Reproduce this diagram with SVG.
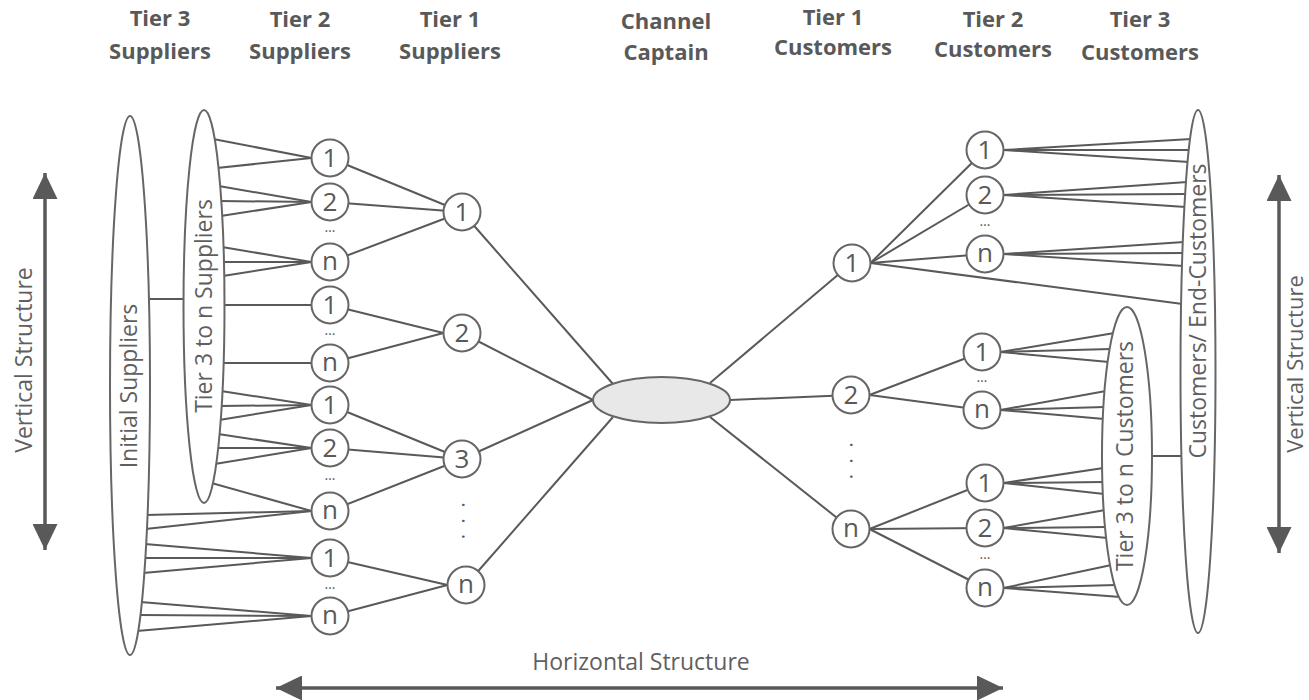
<svg xmlns="http://www.w3.org/2000/svg" width="1309" height="700" viewBox="0 0 1309 700">
  <defs>
    <style>
      .ln { stroke: #595959; stroke-width: 2; fill: none; }
      .nd { fill: #ffffff; stroke: #666666; stroke-width: 2; }
      .cap { fill: #e8e8e8; stroke: #666666; stroke-width: 2; }
      .num { font-family: "Open Sans", "Liberation Sans", sans-serif; font-size: 26px; fill: #595959; text-anchor: middle; }
      .lbl { font-family: "Open Sans", "Liberation Sans", sans-serif; font-size: 23px; fill: #5f5f5f; text-anchor: middle; }
      .hdr { font-family: "Open Sans", "Liberation Sans", sans-serif; font-size: 22px; font-weight: 700; fill: #595959; text-anchor: middle; }
      .dots { font-family: "Open Sans", "Liberation Sans", sans-serif; font-size: 14px; fill: #595959; text-anchor: middle; }
      .vdots { font-family: "Open Sans", "Liberation Sans", sans-serif; font-size: 20px; fill: #595959; letter-spacing: 10.6px; }
      .arr { stroke: #595959; stroke-width: 3.5; fill: none; }
    </style>
    <marker id="head" markerUnits="userSpaceOnUse" markerWidth="26" markerHeight="25" refX="26" refY="12.5" orient="auto-start-reverse" viewBox="0 0 26 25">
      <path d="M0,0 L26,12.5 L0,25 Z" fill="#595959"/>
    </marker>
  </defs>

  <rect width="1309" height="700" fill="#ffffff"/>

  <!-- column headers -->
  <g id="headers">
    <text class="hdr" x="160" y="26">Tier 3</text>
    <text class="hdr" x="160" y="59">Suppliers</text>
    <text class="hdr" x="300" y="27">Tier 2</text>
    <text class="hdr" x="300" y="59">Suppliers</text>
    <text class="hdr" x="450" y="27">Tier 1</text>
    <text class="hdr" x="450" y="59">Suppliers</text>
    <text class="hdr" x="666" y="29">Channel</text>
    <text class="hdr" x="666" y="60">Captain</text>
    <text class="hdr" x="833" y="25">Tier 1</text>
    <text class="hdr" x="833" y="55">Customers</text>
    <text class="hdr" x="993" y="27">Tier 2</text>
    <text class="hdr" x="993" y="57">Customers</text>
    <text class="hdr" x="1140" y="27">Tier 3</text>
    <text class="hdr" x="1140" y="60">Customers</text>
  </g>

  <!-- connectors -->
  <g id="connectors" class="ln">
    <!-- link between the two supplier groups -->
    <line x1="148" y1="299" x2="186" y2="299"/>
    <!-- tier 3 suppliers to tier 2 suppliers -->
    <line x1="311.5" y1="158" x2="213.2" y2="139"/>
    <line x1="311.5" y1="158" x2="217" y2="168"/>
    <line x1="311.5" y1="202" x2="218.7" y2="186"/>
    <line x1="311.5" y1="202" x2="219.8" y2="201"/>
    <line x1="311.5" y1="202" x2="220.7" y2="216"/>
    <line x1="311.5" y1="262" x2="222" y2="247"/>
    <line x1="311.5" y1="262" x2="222.5" y2="262"/>
    <line x1="311.5" y1="262" x2="222.8" y2="276"/>
    <line x1="311.5" y1="305" x2="223" y2="305"/>
    <line x1="311.5" y1="363" x2="222" y2="363"/>
    <line x1="311.5" y1="405" x2="221" y2="391"/>
    <line x1="311.5" y1="405" x2="220.2" y2="406"/>
    <line x1="311.5" y1="405" x2="219.2" y2="420"/>
    <line x1="311.5" y1="448" x2="218.1" y2="434"/>
    <line x1="311.5" y1="448" x2="216.7" y2="448"/>
    <line x1="311.5" y1="448" x2="214.7" y2="464"/>
    <line x1="311.5" y1="511" x2="211.5" y2="483"/>
    <line x1="311.5" y1="511" x2="146" y2="515"/>
    <line x1="311.5" y1="511" x2="145.4" y2="529"/>
    <line x1="311.5" y1="558" x2="144.7" y2="544"/>
    <line x1="311.5" y1="558" x2="143.9" y2="558"/>
    <line x1="311.5" y1="558" x2="142.9" y2="573"/>
    <line x1="311.5" y1="616" x2="140.4" y2="602"/>
    <line x1="311.5" y1="616" x2="139" y2="615"/>
    <line x1="311.5" y1="616" x2="136.7" y2="631"/>
    <!-- tier 2 suppliers to tier 1 suppliers -->
    <line x1="330" y1="158" x2="462" y2="212"/>
    <line x1="330" y1="202" x2="462" y2="212"/>
    <line x1="330" y1="262" x2="462" y2="212"/>
    <line x1="330" y1="305" x2="443.5" y2="333"/>
    <line x1="330" y1="363" x2="443.5" y2="333"/>
    <line x1="330" y1="405" x2="462" y2="459"/>
    <line x1="330" y1="448" x2="462" y2="459"/>
    <line x1="330" y1="511" x2="462" y2="459"/>
    <line x1="330" y1="558" x2="447.5" y2="585"/>
    <line x1="330" y1="616" x2="447.5" y2="585"/>
    <!-- tier 1 suppliers to channel captain -->
    <line x1="462" y1="212" x2="613" y2="384"/>
    <line x1="462" y1="333" x2="593" y2="400"/>
    <line x1="462" y1="459" x2="593" y2="400"/>
    <line x1="466" y1="585" x2="613" y2="417"/>
    <!-- channel captain to tier 1 customers -->
    <line x1="710" y1="383" x2="852" y2="263"/>
    <line x1="730" y1="400" x2="851" y2="395"/>
    <line x1="710" y1="417" x2="851" y2="529"/>
    <!-- tier 1 customers to tier 2 customers -->
    <line x1="870.5" y1="263" x2="985" y2="150"/>
    <line x1="870.5" y1="263" x2="985" y2="195"/>
    <line x1="870.5" y1="263" x2="985" y2="254"/>
    <line x1="870.5" y1="263" x2="1182.6" y2="304"/>
    <line x1="869.5" y1="395" x2="982" y2="352"/>
    <line x1="869.5" y1="395" x2="982" y2="410"/>
    <line x1="869.5" y1="529" x2="985" y2="483"/>
    <line x1="869.5" y1="529" x2="985" y2="528"/>
    <line x1="869.5" y1="529" x2="985" y2="588"/>
    <!-- tier 2 customers to end customers -->
    <line x1="1003.5" y1="150" x2="1191.5" y2="139"/>
    <line x1="1003.5" y1="150" x2="1190.2" y2="150"/>
    <line x1="1003.5" y1="150" x2="1189" y2="162"/>
    <line x1="1003.5" y1="195" x2="1187.4" y2="182"/>
    <line x1="1003.5" y1="195" x2="1186.7" y2="194"/>
    <line x1="1003.5" y1="195" x2="1185.9" y2="207"/>
    <line x1="1003.5" y1="254" x2="1184.3" y2="242"/>
    <line x1="1003.5" y1="254" x2="1183.9" y2="253"/>
    <line x1="1003.5" y1="254" x2="1183.5" y2="266"/>
    <line x1="1000.5" y1="352" x2="1114.4" y2="333"/>
    <line x1="1000.5" y1="352" x2="1111.1" y2="349"/>
    <line x1="1000.5" y1="352" x2="1109.1" y2="362"/>
    <line x1="1000.5" y1="410" x2="1106" y2="391"/>
    <line x1="1000.5" y1="410" x2="1104.9" y2="407"/>
    <line x1="1000.5" y1="410" x2="1104.3" y2="419"/>
    <line x1="1003.5" y1="483" x2="1103.6" y2="468"/>
    <line x1="1003.5" y1="483" x2="1103.9" y2="482"/>
    <line x1="1003.5" y1="483" x2="1104.3" y2="494"/>
    <line x1="1003.5" y1="528" x2="1105.2" y2="510"/>
    <line x1="1003.5" y1="528" x2="1106.5" y2="527"/>
    <line x1="1003.5" y1="528" x2="1107.6" y2="538"/>
    <line x1="1003.5" y1="588" x2="1111.5" y2="565"/>
    <line x1="1003.5" y1="588" x2="1116" y2="585"/>
    <line x1="1003.5" y1="588" x2="1120.4" y2="597"/>
    <!-- link between the two customer groups -->
    <line x1="1150" y1="456" x2="1183" y2="456"/>
  </g>

  <!-- supplier groups -->
  <g id="initial-suppliers">
    <ellipse class="nd" cx="130" cy="385.5" rx="20" ry="269.5"/>
    <text class="lbl" transform="translate(137,386) rotate(-90)">Initial Suppliers</text>
  </g>
  <g id="tier3-suppliers">
    <ellipse class="nd" cx="204" cy="306.5" rx="20.5" ry="196.5"/>
    <text class="lbl" transform="translate(212,306) rotate(-90)">Tier 3 to n Suppliers</text>
  </g>

  <!-- tier 2 suppliers -->
  <g id="s2-a1"><circle class="nd" cx="330" cy="158" r="18.5"/><text class="num" x="330" y="167">1</text></g>
  <g id="s2-a2"><circle class="nd" cx="330" cy="202" r="18.5"/><text class="num" x="330" y="211">2</text></g>
  <g id="s2-an"><circle class="nd" cx="330" cy="262" r="18.5"/><text class="num" x="330" y="270">n</text></g>
  <g id="s2-b1"><circle class="nd" cx="330" cy="305" r="18.5"/><text class="num" x="330" y="314">1</text></g>
  <g id="s2-bn"><circle class="nd" cx="330" cy="363" r="18.5"/><text class="num" x="330" y="371">n</text></g>
  <g id="s2-c1"><circle class="nd" cx="330" cy="405" r="18.5"/><text class="num" x="330" y="414">1</text></g>
  <g id="s2-c2"><circle class="nd" cx="330" cy="448" r="18.5"/><text class="num" x="330" y="457">2</text></g>
  <g id="s2-cn"><circle class="nd" cx="330" cy="511" r="18.5"/><text class="num" x="330" y="519">n</text></g>
  <g id="s2-d1"><circle class="nd" cx="330" cy="558" r="18.5"/><text class="num" x="330" y="567">1</text></g>
  <g id="s2-dn"><circle class="nd" cx="330" cy="616" r="18.5"/><text class="num" x="330" y="624">n</text></g>
  <g id="s2-gaps">
    <text class="dots" x="330" y="232">…</text>
    <text class="dots" x="330" y="335">…</text>
    <text class="dots" x="330" y="480">…</text>
    <text class="dots" x="330" y="589">…</text>
  </g>

  <!-- tier 1 suppliers -->
  <g id="s1-1"><circle class="nd" cx="462" cy="212" r="18.5"/><text class="num" x="462" y="221">1</text></g>
  <g id="s1-2"><circle class="nd" cx="462" cy="333" r="18.5"/><text class="num" x="462" y="342">2</text></g>
  <g id="s1-3"><circle class="nd" cx="462" cy="459" r="18.5"/><text class="num" x="462" y="468">3</text></g>
  <g id="s1-n"><circle class="nd" cx="466" cy="585" r="18.5"/><text class="num" x="466" y="593">n</text></g>
  <g id="s1-gap">
    <text class="vdots" transform="translate(461.5,505) rotate(90)" x="-2.7">...</text>
  </g>

  <!-- focal company -->
  <g id="channel-captain">
    <ellipse class="cap" cx="661.5" cy="400" rx="68.5" ry="23"/>
  </g>

  <!-- tier 1 customers -->
  <g id="c1-1"><circle class="nd" cx="852" cy="263" r="18.5"/><text class="num" x="852" y="272">1</text></g>
  <g id="c1-2"><circle class="nd" cx="851" cy="395" r="18.5"/><text class="num" x="851" y="404">2</text></g>
  <g id="c1-n"><circle class="nd" cx="851" cy="529" r="18.5"/><text class="num" x="851" y="537">n</text></g>
  <g id="c1-gap">
    <text class="vdots" transform="translate(849.5,445) rotate(90)" x="-2.7">...</text>
  </g>

  <!-- tier 2 customers -->
  <g id="c2-a1"><circle class="nd" cx="985" cy="150" r="18.5"/><text class="num" x="985" y="159">1</text></g>
  <g id="c2-a2"><circle class="nd" cx="985" cy="195" r="18.5"/><text class="num" x="985" y="204">2</text></g>
  <g id="c2-an"><circle class="nd" cx="985" cy="254" r="18.5"/><text class="num" x="985" y="262">n</text></g>
  <g id="c2-b1"><circle class="nd" cx="982" cy="352" r="18.5"/><text class="num" x="982" y="361">1</text></g>
  <g id="c2-bn"><circle class="nd" cx="982" cy="410" r="18.5"/><text class="num" x="982" y="418">n</text></g>
  <g id="c2-c1"><circle class="nd" cx="985" cy="483" r="18.5"/><text class="num" x="985" y="492">1</text></g>
  <g id="c2-c2"><circle class="nd" cx="985" cy="528" r="18.5"/><text class="num" x="985" y="537">2</text></g>
  <g id="c2-cn"><circle class="nd" cx="985" cy="588" r="18.5"/><text class="num" x="985" y="596">n</text></g>
  <g id="c2-gaps">
    <text class="dots" x="985" y="226">…</text>
    <text class="dots" x="982" y="382">…</text>
    <text class="dots" x="985" y="559">…</text>
  </g>

  <!-- customer groups -->
  <g id="tier3-customers">
    <ellipse class="nd" cx="1127" cy="456" rx="25" ry="149"/>
    <text class="lbl" transform="translate(1133,456) rotate(-90)">Tier 3 to n Customers</text>
  </g>
  <g id="end-customers">
    <ellipse class="nd" cx="1198" cy="371.5" rx="17.5" ry="261.5"/>
    <text class="lbl" transform="translate(1206,311) rotate(-90)">Customers/ End-Customers</text>
  </g>

  <!-- structure arrows -->
  <g id="vertical-left">
    <line class="arr" x1="45" y1="173" x2="45" y2="550" marker-start="url(#head)" marker-end="url(#head)"/>
    <text class="lbl" transform="translate(32,360) rotate(-90)">Vertical Structure</text>
  </g>
  <g id="vertical-right">
    <line class="arr" x1="1279" y1="175" x2="1279" y2="553" marker-start="url(#head)" marker-end="url(#head)"/>
    <text class="lbl" transform="translate(1303,364) rotate(-90)" style="font-size:22px">Vertical Structure</text>
  </g>
  <g id="horizontal">
    <line class="arr" x1="276" y1="688" x2="1003" y2="688" marker-start="url(#head)" marker-end="url(#head)"/>
    <text class="lbl" x="641" y="670">Horizontal Structure</text>
  </g>
</svg>
